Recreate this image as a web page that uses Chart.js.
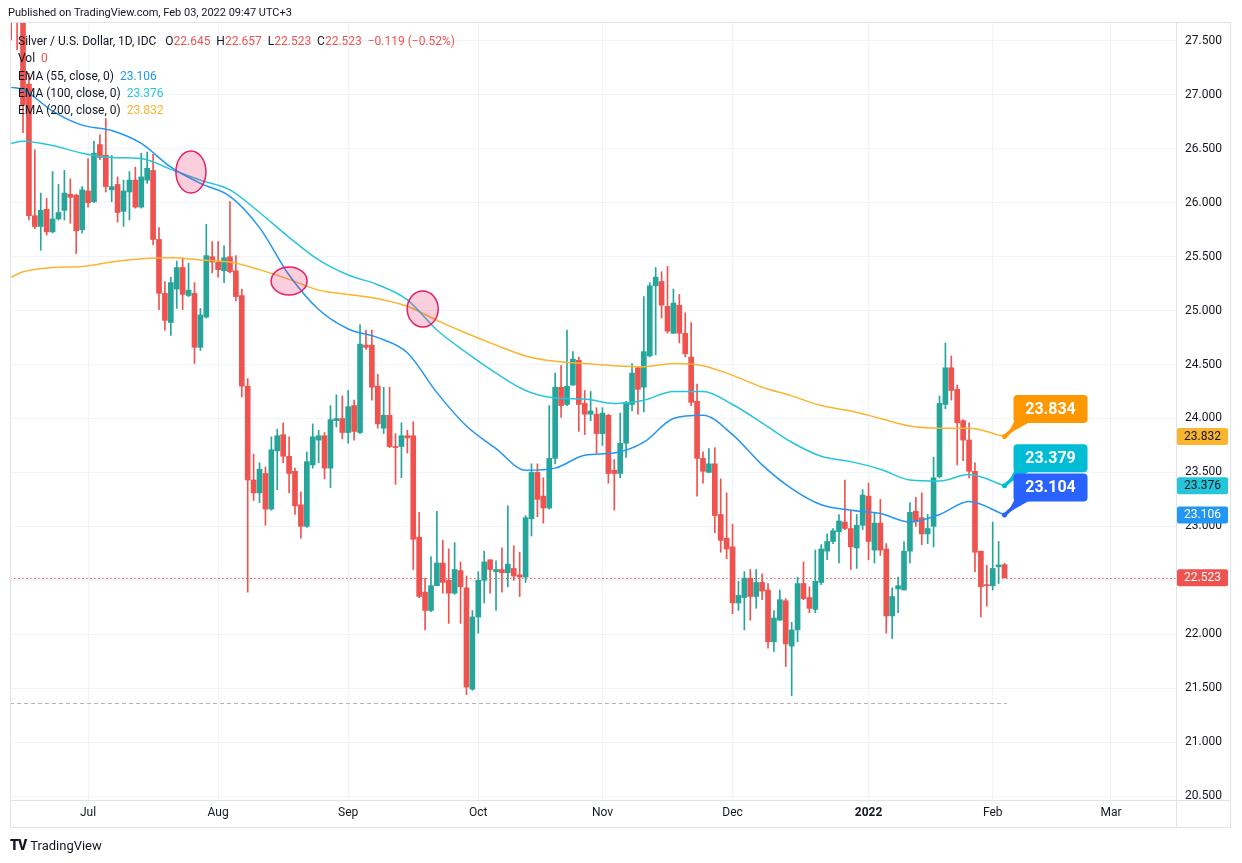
<!DOCTYPE html>
<html>
<head>
<meta charset="utf-8">
<title>Silver / U.S. Dollar, 1D, IDC</title>
<script src="https://cdn.jsdelivr.net/npm/chart.js@4.4.1/dist/chart.umd.min.js"></script>
<style>
    html, body { margin: 0; padding: 0; background: #ffffff; }
    #wrap { position: relative; width: 1242px; height: 863px; overflow: hidden;
            font-family: Roboto, "Noto Sans", sans-serif; color: #131722; }
    #chart { position: absolute; left: 0; top: 0; }
    .txt { position: absolute; font-size: 12px; line-height: 14px; white-space: pre; z-index: 2; }
    .red { color: #ef5350; }
    #logo { position: absolute; left: 10px; top: 837px; font-size: 13px; line-height: 16px; white-space: pre; }
    #logo b { font-size: 14px; font-weight: 900; letter-spacing: -1px; margin-right: 4px; }
</style>
</head>
<body>
<div id="wrap">
    <canvas id="chart" width="1242" height="863"></canvas>
    <div class="txt" style="left:8px; top:6px; font-size:11px;">Published on TradingView.com, Feb 03, 2022 09:47 UTC+3</div>
    <div class="txt" style="left:18px; top:34px;">Silver / U.S. Dollar, 1D, IDC   O<span class="red">22.645</span>  H<span class="red">22.657</span>  L<span class="red">22.523</span>  C<span class="red">22.523</span>  <span class="red">−0.119 (−0.52%)</span></div>
    <div class="txt" style="left:18px; top:51px;">Vol  <span class="red">0</span></div>
    <div class="txt" style="left:18px; top:69px;">EMA (55, close, 0)  <span style="color:#2196f3">23.106</span></div>
    <div class="txt" style="left:18px; top:86px;">EMA (100, close, 0)  <span style="color:#26c6da">23.376</span></div>
    <div class="txt" style="left:18px; top:103px;">EMA (200, close, 0)  <span style="color:#f9b52e">23.832</span></div>
    <div id="logo"><b>TV</b>TradingView</div>
</div>

<script>
// daily bars, Jun 14 2021 (bar -2) .. Feb 03 2022 (bar 166), weekends skipped
const firstBar = -2;

const opens = [
    27.95, 27.88, 27.72, 27.10, 25.88, 25.78, 25.94, 25.73, 25.85, 25.93,
    26.08, 26.07, 25.75, 26.11, 26.01, 26.54, 26.44, 26.12, 26.17, 25.92,
    26.10, 26.21, 25.96, 26.21, 26.30, 25.66, 25.16, 24.89, 25.20, 25.40,
    25.14, 25.16, 24.66, 24.94, 25.50, 25.45, 25.37, 25.50, 25.37, 25.14,
    24.30, 23.43, 23.31, 23.49, 23.16, 23.70, 23.85, 23.65, 23.51, 23.20,
    23.00, 23.57, 23.80, 23.84, 23.54, 23.98, 24.00, 23.87, 24.12, 23.87,
    24.68, 24.68, 24.30, 23.91, 24.03, 23.74, 23.74, 23.84, 23.84, 22.90,
    22.39, 22.22, 22.45, 22.66, 22.50, 22.38, 22.59, 22.43, 21.49, 22.16,
    22.50, 22.69, 22.58, 22.60, 22.57, 22.61, 22.55, 22.53, 23.07, 23.50,
    23.28, 23.17, 23.63, 24.29, 24.13, 24.31, 24.54, 24.14, 24.04, 24.04,
    23.86, 24.03, 23.52, 23.49, 23.77, 24.13, 24.47, 24.29, 24.58, 25.23,
    25.27, 25.04, 24.79, 25.05, 24.79, 24.57, 24.16, 23.63, 23.50, 23.58,
    23.11, 22.89, 22.81, 22.29, 22.34, 22.52, 22.35, 22.48, 22.41, 21.93,
    22.13, 22.31, 21.89, 22.04, 22.47, 22.34, 22.23, 22.48, 22.77, 22.86,
    22.95, 23.04, 22.98, 22.80, 23.01, 23.28, 22.78, 23.03, 22.79, 22.17,
    22.42, 22.41, 22.77, 23.14, 23.08, 22.93, 23.00, 23.46, 24.13, 24.47,
    24.27, 23.98, 23.80, 23.51, 22.77, 22.46, 22.45, 22.625, 22.645
];
const highs = [
    28.05, 27.98, 27.80, 27.20, 26.49, 26.09, 26.04, 26.29, 26.17, 26.30,
    26.22, 26.08, 26.15, 26.41, 26.57, 26.63, 26.78, 26.44, 26.24, 26.21,
    26.29, 26.33, 26.46, 26.47, 26.45, 25.77, 25.27, 25.31, 25.46, 25.49,
    25.44, 25.26, 25.02, 25.80, 25.64, 25.64, 25.60, 26.01, 25.51, 25.20,
    24.37, 23.67, 23.59, 23.55, 23.83, 23.90, 23.96, 23.83, 23.54, 23.32,
    23.69, 23.95, 23.89, 23.87, 24.12, 24.22, 24.21, 24.26, 24.17, 24.87,
    24.82, 24.82, 24.41, 24.29, 24.29, 23.86, 23.96, 23.89, 23.97, 23.13,
    22.52, 22.72, 23.14, 22.87, 22.79, 22.85, 22.67, 22.54, 22.22, 22.58,
    22.77, 22.69, 22.68, 22.80, 23.19, 22.82, 22.76, 23.10, 23.58, 23.58,
    23.45, 24.12, 24.42, 24.49, 24.82, 24.62, 24.57, 24.26, 24.25, 24.10,
    24.10, 24.04, 23.62, 24.05, 24.16, 24.51, 24.48, 25.13, 25.26, 25.40,
    25.36, 25.41, 25.20, 25.15, 24.98, 24.89, 24.32, 23.69, 23.72, 23.73,
    23.44, 23.31, 23.02, 22.49, 22.58, 22.60, 22.60, 22.56, 22.47, 22.22,
    22.41, 22.33, 22.11, 22.53, 22.67, 22.44, 22.78, 22.83, 22.93, 22.98,
    23.11, 23.43, 23.15, 23.11, 23.34, 23.40, 23.13, 23.25, 22.84, 22.43,
    22.53, 22.86, 23.22, 23.27, 23.31, 23.11, 23.64, 24.21, 24.70, 24.58,
    24.31, 23.99, 23.96, 23.59, 22.77, 22.64, 23.04, 22.86, 22.657
];
const lows = [
    27.51, 27.42, 26.65, 25.84, 25.76, 25.56, 25.70, 25.72, 25.84, 25.84,
    25.81, 25.53, 25.72, 25.96, 26.00, 26.40, 26.10, 26.01, 25.82, 25.78,
    25.84, 25.95, 25.95, 26.18, 25.61, 25.01, 24.82, 24.77, 25.02, 25.01,
    25.13, 24.51, 24.63, 24.93, 25.35, 25.31, 25.26, 25.35, 25.09, 24.20,
    22.39, 23.24, 23.22, 23.01, 23.15, 23.34, 23.59, 23.31, 23.11, 22.89,
    22.99, 23.54, 23.59, 23.44, 23.36, 23.92, 23.81, 23.77, 23.80, 23.86,
    24.64, 24.17, 23.91, 23.86, 23.73, 23.39, 23.45, 23.68, 22.60, 22.34,
    22.04, 22.21, 22.45, 22.38, 22.10, 22.37, 22.10, 21.44, 21.48, 22.01,
    22.29, 22.38, 22.22, 22.39, 22.44, 22.50, 22.35, 22.48, 22.91, 23.09,
    23.03, 23.16, 23.58, 24.01, 24.12, 24.31, 23.88, 23.85, 23.98, 23.68,
    23.75, 23.40, 23.15, 23.45, 23.64, 24.07, 24.04, 24.06, 24.57, 24.59,
    24.93, 24.79, 24.79, 24.70, 24.57, 24.12, 23.28, 23.40, 23.50, 22.94,
    22.76, 22.70, 22.19, 22.22, 22.04, 22.13, 22.24, 22.32, 21.87, 21.84,
    22.13, 21.70, 21.43, 21.93, 22.32, 22.20, 22.20, 22.46, 22.69, 22.84,
    22.66, 22.97, 22.60, 22.61, 22.97, 22.69, 22.66, 22.73, 22.01, 21.96,
    22.20, 22.41, 22.66, 23.00, 22.83, 22.84, 22.81, 23.45, 24.09, 24.17,
    23.57, 23.61, 23.45, 22.58, 22.16, 22.26, 22.41, 22.47, 22.523
];
const closes = [
    27.85, 27.72, 26.91, 25.88, 25.78, 25.93, 25.73, 25.85, 25.91, 26.09,
    26.05, 25.74, 26.12, 26.00, 26.46, 26.42, 26.15, 26.15, 25.91, 26.11,
    26.21, 25.96, 26.24, 26.32, 25.66, 25.16, 24.91, 25.26, 25.40, 25.15,
    25.19, 24.66, 24.96, 25.51, 25.45, 25.38, 25.49, 25.36, 25.13, 24.30,
    23.43, 23.31, 23.53, 23.16, 23.71, 23.84, 23.65, 23.49, 23.19, 23.00,
    23.60, 23.83, 23.84, 23.54, 23.99, 24.00, 23.87, 24.11, 23.88, 24.69,
    24.66, 24.29, 23.95, 24.03, 23.74, 23.73, 23.84, 23.82, 22.88, 22.35,
    22.22, 22.45, 22.66, 22.48, 22.38, 22.60, 22.44, 21.51, 22.16, 22.50,
    22.67, 22.60, 22.60, 22.57, 22.65, 22.54, 22.53, 23.08, 23.50, 23.25,
    23.17, 23.63, 24.29, 24.12, 24.30, 24.55, 24.13, 24.04, 24.07, 23.86,
    24.05, 23.49, 23.49, 23.77, 24.15, 24.42, 24.27, 24.62, 25.23, 25.31,
    25.05, 24.81, 25.07, 24.79, 24.60, 24.15, 23.63, 23.51, 23.58, 23.10,
    22.87, 22.79, 22.29, 22.36, 22.52, 22.35, 22.48, 22.40, 21.93, 22.15,
    22.32, 21.91, 22.04, 22.47, 22.33, 22.24, 22.49, 22.79, 22.86, 22.96,
    23.05, 22.98, 22.81, 23.01, 23.29, 22.86, 23.03, 22.78, 22.17, 22.35,
    22.45, 22.77, 23.13, 23.05, 22.93, 22.98, 23.45, 24.14, 24.47, 24.26,
    23.96, 23.80, 23.51, 22.76, 22.44, 22.45, 22.61, 22.642, 22.523
];

// EMA curves at every 5th bar
const emaBars = [-2, 0, 5, 10, 15, 20, 25, 30, 35, 40, 45, 50, 55, 60, 65, 70, 75, 80,
    85, 90, 95, 100, 105, 110, 115, 120, 125, 130, 135, 140, 145, 150, 155, 160, 166];
const ema55 = [27.07, 27.05, 26.85, 26.72, 26.67, 26.55, 26.33, 26.18, 26.06, 25.77,
    25.33, 25.01, 24.83, 24.75, 24.61, 24.24, 23.93, 23.72, 23.52, 23.54,
    23.66, 23.68, 23.78, 24.00, 24.03, 23.85, 23.57, 23.35, 23.20, 23.15,
    23.12, 23.04, 23.11, 23.23, 23.106];
const ema100 = [26.55, 26.57, 26.53, 26.46, 26.42, 26.41, 26.31, 26.21, 26.12, 25.91,
    25.68, 25.47, 25.33, 25.24, 25.10, 24.82, 24.61, 24.42, 24.26, 24.19,
    24.18, 24.14, 24.17, 24.25, 24.25, 24.13, 23.96, 23.78, 23.65, 23.60,
    23.53, 23.43, 23.42, 23.48, 23.376];
const ema200 = [25.31, 25.36, 25.40, 25.41, 25.45, 25.48, 25.49, 25.47, 25.45, 25.38,
    25.29, 25.19, 25.15, 25.11, 25.04, 24.91, 24.79, 24.68, 24.58, 24.53,
    24.51, 24.49, 24.48, 24.51, 24.49, 24.40, 24.29, 24.21, 24.12, 24.07,
    24.00, 23.93, 23.91, 23.91, 23.832];

// axes
const monthBars = [11, 33, 55, 77, 98, 120, 143, 164, 184];
const monthLabels = ["Jul", "Aug", "Sep", "Oct", "Nov", "Dec", "2022", "Feb", "Mar"];
const priceTicks = [20.5, 21, 21.5, 22, 22.5, 23, 23.5, 24, 24.5, 25, 25.5, 26, 26.5, 27, 27.5];

// drawings on the chart
const calloutTexts = ["23.834", "23.379", "23.104"];
const circleBars = [28.4, 45.0, 67.6];
const circlePrices = [26.285, 25.275, 25.015];
const supportLine = [21.362, -2.2, 166.4];   // price, from bar, to bar

const GREEN = "#26a69a", RED = "#ef5350";
const FONT = 'Roboto, "Noto Sans", sans-serif';

const bars = opens.map((_, i) => firstBar + i);
const candleColors = closes.map((c, i) => c >= opens[i] ? GREEN : RED);

function roundRect(ctx, x, y, w, h, r) {
    ctx.beginPath();
    ctx.moveTo(x + r, y);
    ctx.arcTo(x + w, y, x + w, y + h, r);
    ctx.arcTo(x + w, y + h, x, y + h, r);
    ctx.arcTo(x, y + h, x, y, r);
    ctx.arcTo(x, y, x + w, y, r);
    ctx.closePath();
}

const drawings = {
    id: "drawings",
    beforeDatasetsDraw(chart) {
        const { ctx, chartArea: a, scales: { x, y } } = chart;
        ctx.save();
        ctx.beginPath();
        ctx.rect(a.left, a.top, a.right - a.left, a.bottom - a.top);
        ctx.clip();

        // horizontal dashed level
        let py = Math.round(y.getPixelForValue(supportLine[0])) + 0.5;
        ctx.strokeStyle = "#b2b5be";
        ctx.lineWidth = 1;
        ctx.setLineDash([4, 3]);
        ctx.beginPath();
        ctx.moveTo(x.getPixelForValue(supportLine[1]), py);
        ctx.lineTo(x.getPixelForValue(supportLine[2]), py);
        ctx.stroke();

        // last price line
        py = Math.round(y.getPixelForValue(closes[closes.length - 1])) + 0.5;
        ctx.strokeStyle = RED;
        ctx.setLineDash([1.5, 2.5]);
        ctx.beginPath();
        ctx.moveTo(a.left, py);
        ctx.lineTo(a.right, py);
        ctx.stroke();
        ctx.restore();
    },
    afterDatasetsDraw(chart) {
        const { ctx, scales: { x, y } } = chart;
        ctx.save();

        // crossing circles
        const radii = [[15, 21], [18, 14], [15.5, 18]];
        circleBars.forEach((b, i) => {
            ctx.beginPath();
            ctx.ellipse(x.getPixelForValue(b), y.getPixelForValue(circlePrices[i]),
                radii[i][0], radii[i][1], 0, 0, Math.PI * 2);
            ctx.fillStyle = "rgba(233, 30, 99, 0.22)";
            ctx.fill();
            ctx.strokeStyle = "#e91e63";
            ctx.lineWidth = 1.5;
            ctx.stroke();
        });

        // callouts at the end of each EMA
        const last = emaBars.length - 1;
        const ends = [ema200[last], ema100[last], ema55[last]];
        const colors = ["#ff9800", "#00bcd4", "#2962ff"];
        ends.forEach((v, i) => {
            const px = x.getPixelForValue(emaBars[last]);
            const py = y.getPixelForValue(v);
            const left = px + 9, bottom = py - 13.5, w = 74, h = 28;
            ctx.fillStyle = colors[i];
            ctx.strokeStyle = colors[i];
            ctx.lineWidth = 3.5;
            ctx.lineCap = "round";
            ctx.beginPath();
            ctx.moveTo(px, py);
            ctx.lineTo(left + 8, bottom - 2);
            ctx.stroke();
            ctx.beginPath();
            ctx.moveTo(left + 1, bottom - 2);
            ctx.lineTo(left + 18, bottom - 2);
            ctx.lineTo(px + 3, py - 2);
            ctx.closePath();
            ctx.fill();
            ctx.beginPath();
            ctx.arc(px, py, 2.5, 0, Math.PI * 2);
            ctx.fill();
            roundRect(ctx, left, bottom - h, w, h, 4);
            ctx.fill();
            ctx.fillStyle = "#ffffff";
            ctx.font = "bold 16px " + FONT;
            ctx.textAlign = "center";
            ctx.textBaseline = "middle";
            ctx.fillText(calloutTexts[i], left + w / 2, bottom - h / 2 + 1);
        });
        ctx.restore();
    },
    afterDraw(chart) {
        const { ctx, chartArea: a, scales: { y } } = chart;
        ctx.save();

        // frame and axis separators
        ctx.strokeStyle = "#e0e3eb";
        ctx.lineWidth = 1;
        ctx.strokeRect(a.left + 0.5, a.top + 0.5, 1230 - a.left, 828 - a.top - 1);
        ctx.beginPath();
        ctx.moveTo(a.left, a.bottom + 0.5);
        ctx.lineTo(1231, a.bottom + 0.5);
        ctx.moveTo(a.right + 0.5, a.top);
        ctx.lineTo(a.right + 0.5, 828);
        ctx.stroke();

        // price labels on the axis
        const last = emaBars.length - 1;
        const labels = [
            [ema200[last], "#f9b52e", "#131722"],
            [ema100[last], "#26c6da", "#131722"],
            [ema55[last], "#2196f3", "#ffffff"],
            [closes[closes.length - 1], RED, "#ffffff"]
        ];
        labels.forEach(([v, bg, fg]) => {
            const py = y.getPixelForValue(v);
            roundRect(ctx, a.right + 1, py - 8.5, 51, 17, 2);
            ctx.fillStyle = bg;
            ctx.fill();
            ctx.fillStyle = fg;
            ctx.font = "12px " + FONT;
            ctx.textAlign = "center";
            ctx.textBaseline = "middle";
            ctx.fillText(v.toFixed(3), a.right + 26.5, py + 0.5);
        });
        ctx.restore();
    }
};

Chart.defaults.font.family = FONT;
Chart.defaults.font.size = 12;
Chart.defaults.color = "#131722";

new Chart(document.getElementById("chart"), {
    type: "bar",
    data: {
        datasets: [
            {
                type: "line", label: "EMA 55", order: 0, clip: 0,
                data: emaBars.map((b, i) => ({ x: b, y: ema55[i] })),
                borderColor: "#2196f3", borderWidth: 1.5, pointRadius: 0,
                cubicInterpolationMode: "monotone"
            },
            {
                type: "line", label: "EMA 100", order: 0, clip: 0,
                data: emaBars.map((b, i) => ({ x: b, y: ema100[i] })),
                borderColor: "#26c6da", borderWidth: 1.5, pointRadius: 0,
                cubicInterpolationMode: "monotone"
            },
            {
                type: "line", label: "EMA 200", order: 0, clip: 0,
                data: emaBars.map((b, i) => ({ x: b, y: ema200[i] })),
                borderColor: "#f9b52e", borderWidth: 1.5, pointRadius: 0,
                cubicInterpolationMode: "monotone"
            },
            {
                label: "bodies", order: 1, clip: 0, grouped: false,
                data: bars.map((b, i) => ({ x: b, y: [opens[i], closes[i]] })),
                backgroundColor: candleColors, barThickness: 5, minBarLength: 1
            },
            {
                label: "wicks", order: 2, clip: 0, grouped: false,
                data: bars.map((b, i) => ({ x: b, y: [lows[i], highs[i]] })),
                backgroundColor: candleColors, barThickness: 1
            }
        ]
    },
    options: {
        responsive: false,
        animation: false,
        layout: { padding: { left: 10, top: 22, right: 11, bottom: 35 } },
        plugins: { legend: { display: false }, tooltip: { enabled: false } },
        scales: {
            x: {
                type: "linear", min: -2.2, max: 195, offset: false,
                grid: { color: "#f0f3fa", offset: false, drawTicks: false },
                border: { display: false },
                afterBuildTicks: s => { s.ticks = monthBars.map(v => ({ value: v })); },
                afterFit: s => { s.height = 28; },
                ticks: {
                    autoSkip: false, maxRotation: 0, padding: 6,
                    callback: (v, i) => monthLabels[i],
                    font: c => ({ family: FONT, size: 12, weight: monthLabels[c.index] === "2022" ? "bold" : "normal" })
                }
            },
            y: {
                position: "right", min: 20.463, max: 27.676,
                grid: { color: "#f0f3fa", drawTicks: false },
                border: { display: false },
                afterBuildTicks: s => { s.ticks = priceTicks.map(v => ({ value: v })); },
                afterFit: s => { s.width = 55; },
                ticks: { padding: 9, callback: v => v.toFixed(3) }
            }
        }
    },
    plugins: [drawings]
});
</script>
</body>
</html>
